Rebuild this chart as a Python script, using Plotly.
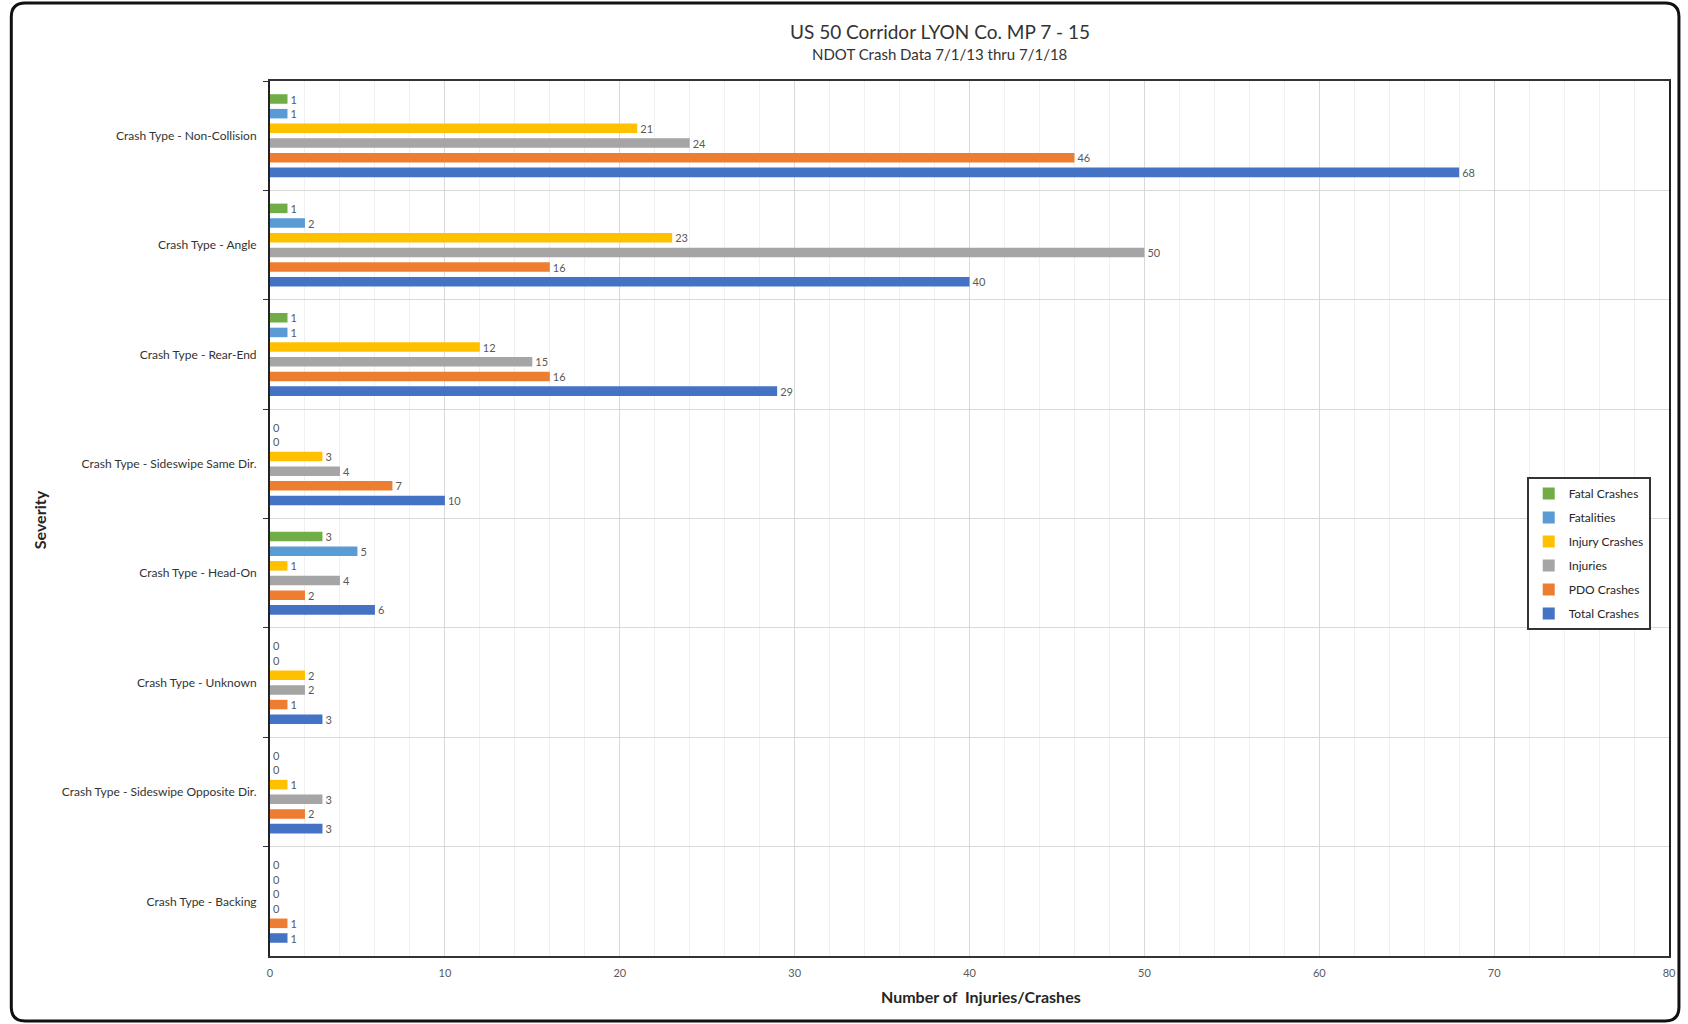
import plotly.graph_objects as go

# ---- data -------------------------------------------------------------
categories = [
    "Crash Type - Non-Collision",
    "Crash Type - Angle",
    "Crash Type - Rear-End",
    "Crash Type - Sideswipe Same Dir.",
    "Crash Type - Head-On",
    "Crash Type - Unknown",
    "Crash Type - Sideswipe Opposite Dir.",
    "Crash Type - Backing",
]

fatal_crashes = [1, 1, 1, 0, 3, 0, 0, 0]
fatalities = [1, 2, 1, 0, 5, 0, 0, 0]
injury_crashes = [21, 23, 12, 3, 1, 2, 1, 0]
injuries = [24, 50, 15, 4, 4, 2, 3, 0]
pdo_crashes = [46, 16, 16, 7, 2, 1, 2, 1]
total_crashes = [68, 40, 29, 10, 6, 3, 3, 1]

series_names = ["Fatal Crashes", "Fatalities", "Injury Crashes", "Injuries", "PDO Crashes", "Total Crashes"]
series_values = [fatal_crashes, fatalities, injury_crashes, injuries, pdo_crashes, total_crashes]
series_colors = ["#70AD47", "#5B9BD5", "#FFC000", "#A5A5A5", "#ED7D31", "#4472C4"]

x_ticks = [0, 10, 20, 30, 40, 50, 60, 70, 80]

# ---- page geometry (pixels) ------------------------------------------
W, H = 1688, 1024
PL, PR, PT, PB = 270, 1676, 81, 956   # plot area edges


def fx(px):
    return (px - PL) / (PR - PL)


def fy(py):
    return (PB - py) / (PB - PT)


FONT = "Lato, 'Open Sans', sans-serif"

fig = go.Figure()
for i, (name, vals, col) in enumerate(zip(series_names, series_values, series_colors)):
    fig.add_trace(go.Bar(
        name=name,
        y=categories,
        x=vals,
        orientation="h",
        marker=dict(color=col, line=dict(width=0)),
        text=[str(v) for v in vals],
        textposition="outside",
        textfont=dict(family=FONT, size=11, color="#595959"),
        constraintext="none",
        cliponaxis=False,
        legendgroup=f"g{i}",
    ))

# outer rounded frame
x0, x1, y0, y1, r = fx(10), fx(1686), fy(3), fy(1021), 14
rx, ry = r / (PR - PL), r / (PB - PT)
frame_path = (
    f"M {x0 + rx},{y0} L {x1 - rx},{y0} Q {x1},{y0} {x1},{y0 - ry} "
    f"L {x1},{y1 + ry} Q {x1},{y1} {x1 - rx},{y1} "
    f"L {x0 + rx},{y1} Q {x0},{y1} {x0},{y1 + ry} "
    f"L {x0},{y0 - ry} Q {x0},{y0} {x0 + rx},{y0} Z"
)

fig.update_layout(
    width=W,
    height=H,
    margin=dict(l=PL, r=W - PR, t=PT, b=H - PB, pad=0),
    paper_bgcolor="white",
    plot_bgcolor="white",
    font=dict(family=FONT, color="#404040"),
    barmode="group",
    bargap=0.195,
    bargroupgap=0.35,
    showlegend=True,
    legend=dict(
        x=fx(1533), y=fy(477), xanchor="left", yanchor="top",
        bgcolor="white", bordercolor="#333333", borderwidth=2,
        font=dict(family=FONT, size=12, color="#262626"),
        traceorder="grouped", tracegroupgap=5,
        itemwidth=30,
    ),
    xaxis=dict(
        range=[0, 80],
        tickvals=x_ticks,
        ticktext=[str(t) for t in x_ticks],
        tickfont=dict(family=FONT, size=11, color="#595959"),
        ticks="",
        ticklabelstandoff=6,
        showgrid=True,
        gridcolor="#D9D9D9",
        gridwidth=1,
        minor=dict(dtick=2, tick0=0, showgrid=True, gridcolor="#F0F0F0", gridwidth=1),
        showline=True,
        linecolor="#333333",
        linewidth=2,
        mirror=True,
        zeroline=False,
        fixedrange=True,
    ),
    yaxis=dict(
        categoryorder="array",
        categoryarray=categories,
        autorange="reversed",
        tickson="boundaries",
        ticks="outside",
        ticklen=5,
        tickcolor="#333333",
        tickfont=dict(family=FONT, size=12, color="#333333"),
        ticklabelstandoff=9,
        showgrid=True,
        gridcolor="#D9D9D9",
        gridwidth=1,
        showline=True,
        linecolor="#222222",
        linewidth=2,
        mirror=True,
        fixedrange=True,
    ),
    shapes=[dict(
        type="path", xref="paper", yref="paper", path=frame_path,
        line=dict(color="#111111", width=3), fillcolor="rgba(0,0,0,0)",
        layer="above",
    )],
    annotations=[
        dict(text="US 50 Corridor LYON Co. MP 7 - 15", x=fx(943), y=fy(32),
             xref="paper", yref="paper", showarrow=False, xanchor="center", yanchor="middle",
             font=dict(family=FONT, size=19, color="#333333")),
        dict(text="NDOT Crash Data 7/1/13 thru 7/1/18", x=fx(943), y=fy(54),
             xref="paper", yref="paper", showarrow=False, xanchor="center", yanchor="middle",
             font=dict(family=FONT, size=15, color="#333333")),
        dict(text="<b>Number of  Injuries/Crashes</b>", x=fx(985), y=fy(996),
             xref="paper", yref="paper", showarrow=False, xanchor="center", yanchor="middle",
             font=dict(family=FONT, size=16, color="#262626")),
        dict(text="<b>Severity</b>", x=fx(38), y=fy(520), textangle=-90,
             xref="paper", yref="paper", showarrow=False, xanchor="center", yanchor="middle",
             font=dict(family=FONT, size=16, color="#262626")),
    ],
)

fig.write_html("out.html", config={"displayModeBar": False})
